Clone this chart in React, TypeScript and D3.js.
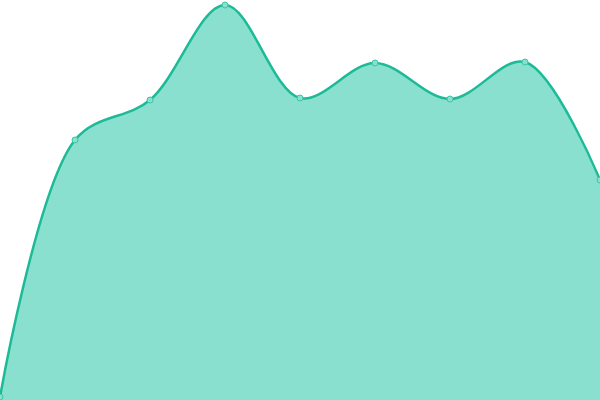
import { useEffect, useRef } from 'react';
import * as d3 from 'd3';

const categories = ['A', 'B', 'C', 'D', 'E', 'F', 'G', 'H', 'I'];
const values = [3, 260, 300, 395, 302, 337, 301, 338, 220];

const width = 600;
const height = 400;

const App = () => {
  const ref = useRef<SVGSVGElement>(null);

  useEffect(() => {
    const svg = d3.select(ref.current);
    svg.selectAll('*').remove();

    const x = d3.scalePoint<string>().domain(categories).range([0, width]);
    const y = d3.scaleLinear().domain([0, 400]).range([height, 0]);

    const data = categories.map((c, i) => ({ c, v: values[i] }));

    const area = d3
      .area<any>()
      .x((d) => x(d.c) as number)
      .y0(height)
      .y1((d) => y(d.v))
      .curve(d3.curveCatmullRom);

    const line = d3
      .line<any>()
      .x((d) => x(d.c) as number)
      .y((d) => y(d.v))
      .curve(d3.curveCatmullRom);

    svg.append('path').datum(data).attr('d', area).attr('fill', '#89e0cf');

    svg
      .append('path')
      .datum(data)
      .attr('d', line)
      .attr('fill', 'none')
      .attr('stroke', '#1dba98')
      .attr('stroke-width', 2.5);

    // small point markers
    svg
      .selectAll('.dot')
      .data(data)
      .enter()
      .append('circle')
      .attr('class', 'dot')
      .attr('cx', (d: any) => x(d.c) as number)
      .attr('cy', (d: any) => y(d.v))
      .attr('r', 3)
      .attr('fill', '#89e0cf')
      .attr('stroke', '#3cc6a6')
      .attr('stroke-width', 1);
  }, []);

  return (
    <svg
      ref={ref}
      width={width}
      height={height}
      style={{ position: 'fixed', left: 0, top: 0, background: 'white' }}
    />
  );
};

export default App;
